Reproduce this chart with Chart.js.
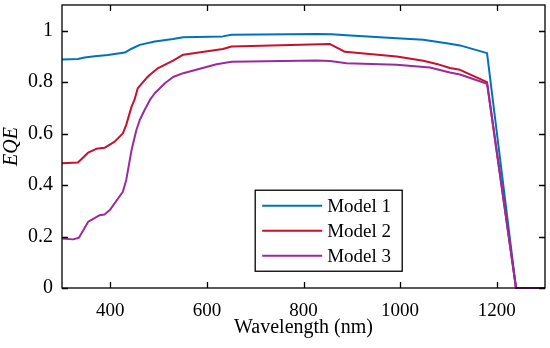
<!DOCTYPE html>
<html>
<head>
<meta charset="utf-8">
<script src="https://cdn.jsdelivr.net/npm/chart.js@4"></script>
<style>
  html, body { margin: 0; padding: 0; background: #fff; }
  #wrap { width: 550px; height: 348px; }
</style>
</head>
<body>
<div id="wrap"><canvas id="eqe"></canvas></div>
<script>
const wl1 = [300, 333, 347, 368, 395, 430, 444, 461, 492, 530, 551, 633, 651, 827, 858, 889, 993, 1048, 1103, 1124, 1180, 1240, 1300];
const model1 = [0.888, 0.89, 0.896, 0.901, 0.906, 0.915, 0.93, 0.945, 0.958, 0.968, 0.975, 0.978, 0.984, 0.987, 0.986, 0.982, 0.971, 0.965, 0.949, 0.943, 0.913, 0, 0];

const wl2 = [300, 333, 354, 371, 388, 409, 426, 433, 444, 450, 457, 475, 482, 499, 530, 551, 633, 651, 855, 886, 993, 1048, 1076, 1103, 1124, 1180, 1240, 1300];
const model2 = [0.485, 0.488, 0.526, 0.541, 0.545, 0.569, 0.601, 0.634, 0.705, 0.731, 0.777, 0.816, 0.829, 0.855, 0.884, 0.907, 0.929, 0.939, 0.948, 0.918, 0.90, 0.883, 0.871, 0.855, 0.848, 0.80, 0, 0];

const wl3 = [300, 323, 335, 354, 378, 388, 399, 426, 433, 444, 454, 461, 471, 482, 492, 513, 530, 551, 620, 651, 827, 855, 889, 993, 1062, 1103, 1124, 1180, 1240, 1300];
const model3 = [0.192, 0.189, 0.195, 0.257, 0.283, 0.286, 0.303, 0.374, 0.42, 0.536, 0.614, 0.653, 0.692, 0.731, 0.757, 0.796, 0.82, 0.835, 0.870, 0.879, 0.884, 0.882, 0.874, 0.868, 0.857, 0.838, 0.83, 0.794, 0, 0];

const xTicks = [400, 600, 800, 1000, 1200];
const yTicks = [0, 0.2, 0.4, 0.6, 0.8, 1];
const names = ["Model 1", "Model 2", "Model 3"];
const colors = ["#0072bd", "#c8102e", "#9a2a9e"];

const FONT = "'Liberation Serif', 'Times New Roman', serif";

function pts(xs, ys) {
  return xs.map((x, i) => ({ x: x, y: ys[i] }));
}

// inward ticks on all four sides + box frame
const frame = {
  id: "frame",
  afterDatasetsDraw(chart) {
    const { ctx, chartArea: a, scales } = chart;
    const len = 6;
    ctx.save();
    ctx.strokeStyle = "#000";
    ctx.lineWidth = 1.3;
    ctx.beginPath();
    xTicks.forEach((v) => {
      const px = Math.round(scales.x.getPixelForValue(v)) + 0.5;
      ctx.moveTo(px, a.bottom); ctx.lineTo(px, a.bottom - len);
      ctx.moveTo(px, a.top); ctx.lineTo(px, a.top + len);
    });
    yTicks.forEach((v) => {
      const py = Math.round(scales.y.getPixelForValue(v)) + 0.5;
      ctx.moveTo(a.left, py); ctx.lineTo(a.left + len, py);
      ctx.moveTo(a.right, py); ctx.lineTo(a.right - len, py);
    });
    ctx.stroke();
    ctx.strokeRect(a.left, a.top, a.right - a.left, a.bottom - a.top);
    ctx.restore();
  },
};

// legend box inside the plot
const boxLegend = {
  id: "boxLegend",
  afterDraw(chart) {
    const { ctx, scales } = chart;
    const x0 = scales.x.getPixelForValue(700);
    const y0 = scales.y.getPixelForValue(0.38);
    const w = 147, h = 81;
    ctx.save();
    ctx.fillStyle = "#fff";
    ctx.fillRect(x0, y0, w, h);
    ctx.strokeStyle = "#000";
    ctx.lineWidth = 1.3;
    ctx.strokeRect(x0, y0, w, h);
    ctx.font = "19px " + FONT;
    ctx.textBaseline = "middle";
    names.forEach((n, i) => {
      const y = y0 + 15.5 + i * 25;
      ctx.strokeStyle = colors[i];
      ctx.lineWidth = 2;
      ctx.beginPath();
      ctx.moveTo(x0 + 7, y); ctx.lineTo(x0 + 67, y);
      ctx.stroke();
      ctx.fillStyle = "#000";
      ctx.fillText(n, x0 + 72, y + 1);
    });
    ctx.restore();
  },
};

new Chart(document.getElementById("eqe"), {
  type: "line",
  plugins: [frame, boxLegend],
  data: {
    datasets: [
      { label: names[0], data: pts(wl1, model1), borderColor: colors[0], order: 3 },
      { label: names[1], data: pts(wl2, model2), borderColor: colors[1], order: 2 },
      { label: names[2], data: pts(wl3, model3), borderColor: colors[2], order: 1 },
    ],
  },
  options: {
    animation: false,
    responsive: true,
    maintainAspectRatio: false,
    layout: { padding: { top: 5, right: 5, left: 0, bottom: 0 } },
    elements: {
      point: { radius: 0 },
      line: { borderWidth: 2, tension: 0, borderJoinStyle: "round" },
    },
    datasets: { line: { clip: false } },
    plugins: {
      legend: { display: false },
      tooltip: { enabled: false },
    },
    scales: {
      x: {
        type: "linear",
        min: 300,
        max: 1300,
        afterBuildTicks: (s) => { s.ticks = xTicks.map((v) => ({ value: v })); },
        afterFit: (s) => { s.height = 60; s.paddingLeft = 0; s.paddingRight = 0; },
        grid: { display: false },
        border: { display: false },
        ticks: {
          color: "#000",
          font: { family: FONT, size: 19 },
          padding: 4,
          maxRotation: 0,
          callback: (v) => String(v),
        },
        title: {
          display: true,
          text: "Wavelength (nm)",
          color: "#000",
          font: { family: FONT, size: 20 },
          padding: { top: 0, bottom: 8 },
        },
      },
      y: {
        min: 0,
        max: 1.1,
        afterBuildTicks: (s) => { s.ticks = yTicks.map((v) => ({ value: v })); },
        afterFit: (s) => { s.width = 62; s.paddingTop = 0; s.paddingBottom = 0; },
        grid: { display: false },
        border: { display: false },
        ticks: {
          color: "#000",
          font: { family: FONT, size: 20 },
          padding: 1,
          callback: (v) => String(Math.round(v * 10) / 10),
        },
        title: {
          display: true,
          text: "EQE",
          color: "#000",
          font: { family: FONT, size: 20, style: "italic" },
          padding: 0,
        },
      },
    },
  },
});
</script>
</body>
</html>
